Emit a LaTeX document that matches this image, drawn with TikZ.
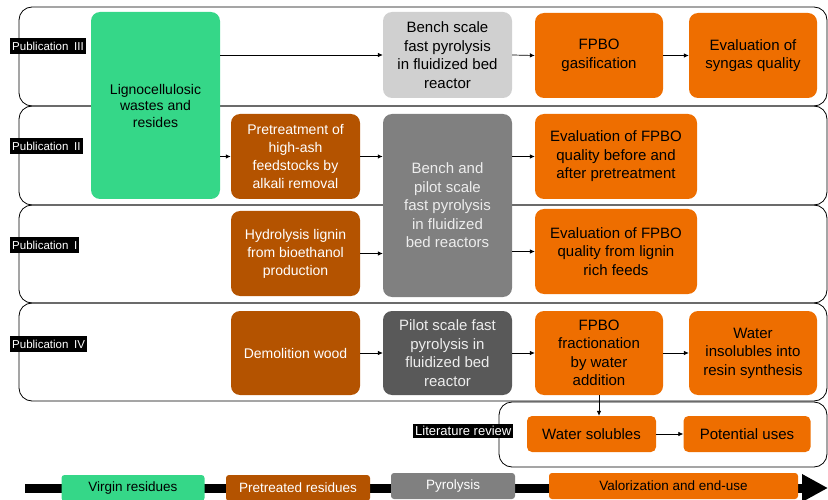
\documentclass[tikz,border=0pt]{standalone}
\usepackage{fontspec}
\setmainfont{Liberation Sans}
\usetikzlibrary{arrows.meta}
\definecolor{vgreen}{RGB}{53,215,136}
\definecolor{pbrown}{RGB}{180,83,0}
\definecolor{vorange}{RGB}{238,110,0}
\definecolor{lgray}{RGB}{208,208,208}
\definecolor{mgray}{RGB}{128,128,128}
\definecolor{dgray}{RGB}{89,89,89}
\begin{document}
\begin{tikzpicture}[x=1pt, y=-1pt,
		box/.style= {rounded corners=9pt, align=center, inner sep=2pt, font=\fontsize{15}{18.5}\selectfont},
		virgin/.style= {box, fill=vgreen, text=black, font=\fontsize{14}{16.5}\selectfont},
		pretreat/.style= {box, fill=pbrown, text=white, font=\fontsize{14}{18}\selectfont},
		valor/.style= {box, fill=vorange, text=black},
		band/.style= {draw, line width=0.8pt, rounded corners=13pt},
		publab/.style= {fill=black, text=white, inner xsep=2pt, inner ysep=3.5pt, anchor=west, font=\fontsize{11.5}{12}\selectfont},
		legend/.style= {rounded corners=3pt, inner sep=2pt, font=\fontsize{13.5}{14}\selectfont},
		arr/.style= {-{Latex[length=5pt,width=4.5pt]}, line width=0.7pt}]
		\useasboundingbox (0,0) rectangle (828,500);
		% Bands
		\draw[band] (19,7) rectangle (827,106);
		\draw[band] (19,106) rectangle (827,205);
		\draw[band] (19,205) rectangle (827,303);
		\draw[band] (19,303) rectangle (827,401);
		\draw[band] (499,402) rectangle (827,467);
		\node[publab] (P3) at (10,46) {Publication\enspace III};
		\node[publab] (P2) at (10,146) {Publication\enspace II};
		\node[publab] (P1) at (10,245) {Publication\enspace I};
		\node[publab] (P4) at (10,344) {Publication\enspace IV};
		\node[publab, font=\fontsize{13}{14}\selectfont, inner ysep=2.5pt] (Lit) at (413,431) {Literature review};
		% Steps
		\node[virgin, minimum width=129pt, minimum height=187pt] (Lig) at (155.5,105.5) {Lignocellulosic\\wastes and\\resides};
		\node[box, fill=lgray, minimum width=129pt, minimum height=86pt] (Ben) at (447.5,55) {Bench scale\\fast pyrolysis\\in fluidized bed\\reactor};
		\node[valor, minimum width=128pt, minimum height=85pt] (Gas) at (599,55.5) {FPBO\\gasification};
		\node[valor, minimum width=128pt, minimum height=85pt] (Syn) at (753,55.5) {Evaluation of\\syngas quality};
		\node[pretreat, minimum width=129pt, minimum height=85pt] (Pre) at (295.5,156.5) {Pretreatment of\\high-ash\\feedstocks by\\alkali removal};
		\node[box, fill=mgray, text=white!93!black, minimum width=129pt, minimum height=183pt] (Pil) at (447.5,205.5) {Bench and\\pilot scale\\fast pyrolysis\\in fluidized\\bed reactors};
		\node[valor, minimum width=162pt, minimum height=85pt] (Bef) at (616,156.5) {Evaluation of FPBO\\quality before and\\after pretreatment};
		\node[pretreat, minimum width=129pt, minimum height=85pt] (Hyd) at (295.5,253.5) {Hydrolysis lignin\\from bioethanol\\production};
		\node[valor, minimum width=162pt, minimum height=85pt] (Lgn) at (616,251.5) {Evaluation of FPBO\\quality from lignin\\rich feeds};
		\node[pretreat, minimum width=129pt, minimum height=84pt] (Dem) at (295.5,353) {Demolition wood};
		\node[box, fill=dgray, text=white!93!black, minimum width=129pt, minimum height=84pt] (Pfp) at (447.5,353) {Pilot scale fast\\pyrolysis in\\fluidized bed\\reactor};
		\node[valor, minimum width=128pt, minimum height=84pt] (Fra) at (599,353) {FPBO\\fractionation\\by water\\addition};
		\node[valor, minimum width=128pt, minimum height=84pt] (Ins) at (753,353) {Water\\insolubles into\\resin synthesis};
		\node[valor, rounded corners=5pt, minimum width=129pt, minimum height=36pt] (Sol) at (591.5,434) {Water solubles};
		\node[valor, rounded corners=5pt, minimum width=127pt, minimum height=36pt] (Use) at (747,434) {Potential uses};
		% Connections
		%% Publication III
		\draw[arr] (Lig.east |- Ben.west) -- (Ben.west);
		\draw[arr] (Ben.east) -- (Gas.west);
		\draw[arr] (Gas.east) -- (Syn.west);
		%% Publication II
		\draw[arr, line width=1.1pt] (Lig.east |- Pre.west) -- (Pre.west);
		\draw[arr, line width=1.4pt] (Pre.east) -- (Pre.east -| Pil.west);
		\draw[arr] (Pil.east |- Bef.west) -- (Bef.west);
		%% Publication I
		\draw[arr] (Hyd.east) -- (Hyd.east -| Pil.west);
		\draw[arr] (Pil.east |- Lgn.west) -- (Lgn.west);
		%% Publication IV
		\draw[arr] (Dem.east) -- (Pfp.west);
		\draw[arr] (Pfp.east) -- (Fra.west);
		\draw[arr] (Fra.east) -- (Ins.west);
		\draw[arr] (Fra.south) -- (Fra.south |- Sol.north);
		\draw[arr] (Sol.east) -- (Use.west);
		% Legend
		\coordinate (Start) at (25,488);
		\coordinate (End) at (828,488);
		\draw[line width=9pt, -{Triangle[length=26pt,width=26pt]}] (Start) -- (End);
		\node[legend, fill=vgreen, text=black, minimum width=143pt, minimum height=26pt] (Vir) at (133,488) {Virgin residues};
		\node[legend, fill=pbrown, text=white, minimum width=144pt, minimum height=26pt] (Ptr) at (298,488) {Pretreated residues};
		\node[legend, fill=mgray, text=white, minimum width=124pt, minimum height=26pt] (Pyr) at (453,486) {Pyrolysis};
		\node[legend, fill=vorange, text=black, minimum width=249pt, minimum height=26pt] (Val) at (673.5,486) {Valorization and end-use};
	\end{tikzpicture}
\end{document}
